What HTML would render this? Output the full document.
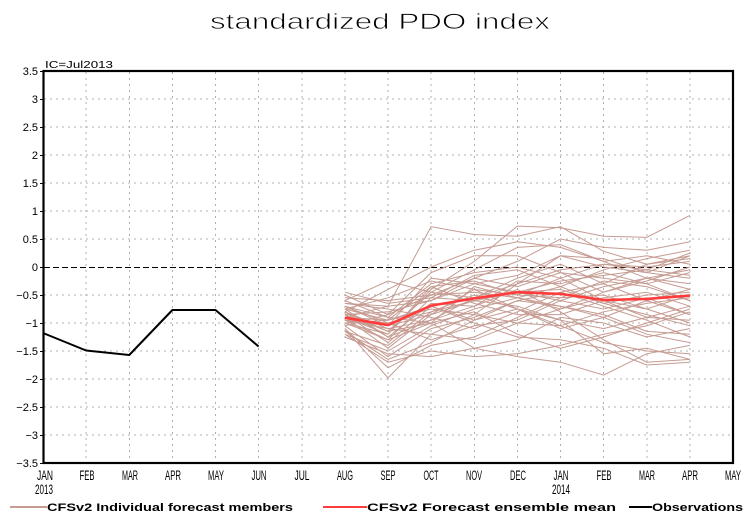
<!DOCTYPE html>
<html><head><meta charset="utf-8"><style>
html,body{margin:0;padding:0;background:#fff;}
svg{display:block;}
text{font-family:"Liberation Sans",sans-serif;fill:#000;}
.m polyline{fill:none;stroke:#c59b92;stroke-width:1;vector-effect:non-scaling-stroke;}
</style></head><body>
<svg width="755" height="525" viewBox="0 0 755 525" xmlns="http://www.w3.org/2000/svg">
<rect width="755" height="525" fill="#fff"/>
<text x="210" y="29" font-size="22" textLength="340" lengthAdjust="spacingAndGlyphs" stroke="#fff" stroke-width="0.7">standardized PDO index</text>
<text x="45" y="68" font-size="10" textLength="68" lengthAdjust="spacingAndGlyphs">IC=Jul2013</text>

<!-- grid -->
<g stroke="#b0b0b0" stroke-width="1" stroke-dasharray="2,4" shape-rendering="crispEdges">
<line x1="86.1" y1="72" x2="86.1" y2="463"/>
<line x1="129.25" y1="72" x2="129.25" y2="463"/>
<line x1="172.4" y1="72" x2="172.4" y2="463"/>
<line x1="215.5" y1="72" x2="215.5" y2="463"/>
<line x1="258.6" y1="72" x2="258.6" y2="463"/>
<line x1="301.75" y1="72" x2="301.75" y2="463"/>
<line x1="344.9" y1="72" x2="344.9" y2="463"/>
<line x1="388" y1="72" x2="388" y2="463"/>
<line x1="431.1" y1="72" x2="431.1" y2="463"/>
<line x1="474.25" y1="72" x2="474.25" y2="463"/>
<line x1="517.4" y1="72" x2="517.4" y2="463"/>
<line x1="560.5" y1="72" x2="560.5" y2="463"/>
<line x1="603.6" y1="72" x2="603.6" y2="463"/>
<line x1="646.75" y1="72" x2="646.75" y2="463"/>
<line x1="689.9" y1="72" x2="689.9" y2="463"/>
<line x1="44" y1="99" x2="733" y2="99"/>
<line x1="44" y1="127" x2="733" y2="127"/>
<line x1="44" y1="155" x2="733" y2="155"/>
<line x1="44" y1="183" x2="733" y2="183"/>
<line x1="44" y1="211" x2="733" y2="211"/>
<line x1="44" y1="239" x2="733" y2="239"/>
<line x1="44" y1="295" x2="733" y2="295"/>
<line x1="44" y1="323" x2="733" y2="323"/>
<line x1="44" y1="351" x2="733" y2="351"/>
<line x1="44" y1="379" x2="733" y2="379"/>
<line x1="44" y1="407" x2="733" y2="407"/>
<line x1="44" y1="435" x2="733" y2="435"/>
</g>
<line x1="44" y1="267.5" x2="733" y2="267.5" stroke="#000" stroke-width="1" stroke-dasharray="6,3"/>

<!-- members -->
<g class="m" transform="translate(0,267) scale(1,-56)">
<polyline points="344.9,-0.65 388,-0.70 431.1,0.72 474.25,0.58 517.4,0.55 560.5,0.72 603.6,0.28 646.75,0.05 689.9,0.15"/>
<polyline points="344.9,-0.90 388,-1.20 431.1,-0.40 474.25,0.10 517.4,0.73 560.5,0.70 603.6,0.55 646.75,0.53 689.9,0.92"/>
<polyline points="344.9,-1.10 388,-1.98 431.1,-1.20 474.25,-0.85 517.4,-0.30 560.5,0.20 603.6,0.00 646.75,-0.10 689.9,0.20"/>
<polyline points="344.9,-0.80 388,-0.40 431.1,0.00 474.25,0.30 517.4,0.45 560.5,0.35 603.6,0.10 646.75,-0.20 689.9,-0.05"/>
<polyline points="344.9,-1.20 388,-1.70 431.1,-1.50 474.25,-1.60 517.4,-1.55 560.5,-1.40 603.6,-1.20 646.75,-1.05 689.9,-0.80"/>
<polyline points="344.9,-0.95 388,-1.10 431.1,-0.95 474.25,-0.70 517.4,-0.40 560.5,-0.80 603.6,-1.30 646.75,-1.70 689.9,-1.65"/>
<polyline points="344.9,-0.70 388,-0.90 431.1,-0.30 474.25,-0.10 517.4,0.00 560.5,-0.20 603.6,-0.60 646.75,-0.90 689.9,-0.70"/>
<polyline points="344.9,-1.00 388,-1.30 431.1,-1.00 474.25,-1.45 517.4,-1.60 560.5,-1.70 603.6,-1.93 646.75,-1.55 689.9,-1.40"/>
<polyline points="344.9,-0.85 388,-0.80 431.1,-0.60 474.25,-0.20 517.4,0.10 560.5,0.50 603.6,0.35 646.75,0.30 689.9,0.45"/>
<polyline points="344.9,-0.60 388,-0.25 431.1,-0.45 474.25,-0.55 517.4,-0.30 560.5,-0.05 603.6,0.05 646.75,-0.05 689.9,0.25"/>
<polyline points="344.9,-1.15 388,-1.40 431.1,-0.80 474.25,-0.50 517.4,-0.75 560.5,-1.10 603.6,-0.90 646.75,-0.60 689.9,-0.40"/>
<polyline points="344.9,-0.75 388,-0.95 431.1,-0.70 474.25,-1.00 517.4,-1.25 560.5,-1.30 603.6,-1.45 646.75,-1.75 689.9,-1.70"/>
<polyline points="344.9,-1.05 388,-1.60 431.1,-1.10 474.25,-0.90 517.4,-0.60 560.5,-0.45 603.6,-0.30 646.75,0.05 689.9,0.20"/>
<polyline points="344.9,-0.50 388,-0.85 431.1,-0.10 474.25,0.20 517.4,0.20 560.5,-0.10 603.6,-0.45 646.75,-0.25 689.9,0.00"/>
<polyline points="344.9,-0.95 388,-1.00 431.1,-1.30 474.25,-1.05 517.4,-0.95 560.5,-0.60 603.6,-0.35 646.75,-0.20 689.9,-0.30"/>
<polyline points="344.9,-0.80 388,-1.25 431.1,-0.65 474.25,-0.70 517.4,-0.25 560.5,-0.30 603.6,-0.10 646.75,-0.30 689.9,-0.60"/>
<polyline points="344.9,-1.25 388,-1.55 431.1,-1.60 474.25,-1.45 517.4,-1.30 560.5,-0.90 603.6,-1.00 646.75,-1.25 689.9,-1.10"/>
<polyline points="344.9,-0.70 388,-1.05 431.1,-0.20 474.25,-0.30 517.4,-0.45 560.5,-0.60 603.6,-0.75 646.75,-0.55 689.9,-0.85"/>
<polyline points="344.9,-0.90 388,-1.45 431.1,-0.85 474.25,-0.40 517.4,-0.50 560.5,-0.20 603.6,0.05 646.75,0.00 689.9,0.10"/>
<polyline points="344.9,-0.55 388,-0.60 431.1,-0.50 474.25,-0.45 517.4,-0.55 560.5,-0.70 603.6,-0.90 646.75,-1.20 689.9,-1.35"/>
<polyline points="344.9,-1.00 388,-0.95 431.1,-0.75 474.25,-0.85 517.4,-1.00 560.5,-0.75 603.6,-0.55 646.75,-0.45 689.9,-0.70"/>
<polyline points="344.9,-0.85 388,-1.15 431.1,-0.45 474.25,-0.05 517.4,0.35 560.5,0.40 603.6,0.10 646.75,0.20 689.9,0.05"/>
<polyline points="344.9,-1.10 388,-1.80 431.1,-1.40 474.25,-1.25 517.4,-0.90 560.5,-0.55 603.6,-0.50 646.75,-0.75 689.9,-1.00"/>
<polyline points="344.9,-0.65 388,-0.75 431.1,-0.90 474.25,-1.10 517.4,-0.80 560.5,-0.45 603.6,-0.70 646.75,-0.95 689.9,-1.25"/>
<polyline points="344.9,-0.95 388,-1.30 431.1,-0.55 474.25,-0.60 517.4,-0.45 560.5,-0.25 603.6,-0.15 646.75,-0.05 689.9,-0.15"/>
<polyline points="344.9,-0.75 388,-0.55 431.1,-0.25 474.25,-0.40 517.4,-0.75 560.5,-1.05 603.6,-1.35 646.75,-1.50 689.9,-1.55"/>
<polyline points="344.9,-1.20 388,-1.50 431.1,-1.05 474.25,-0.75 517.4,-0.55 560.5,-0.35 603.6,-0.65 646.75,-0.50 689.9,-0.45"/>
<polyline points="344.9,-0.90 388,-0.70 431.1,-0.60 474.25,-0.30 517.4,-0.15 560.5,0.20 603.6,0.15 646.75,-0.10 689.9,-0.20"/>
<polyline points="344.9,-0.80 388,-1.10 431.1,-1.20 474.25,-1.30 517.4,-1.00 560.5,-1.05 603.6,-0.80 646.75,-0.65 689.9,-0.55"/>
<polyline points="344.9,-0.70 388,-1.00 431.1,-0.80 474.25,-0.60 517.4,-0.70 560.5,-0.95 603.6,-1.10 646.75,-0.90 689.9,-0.95"/>
<polyline points="344.9,-1.00 388,-1.20 431.1,-0.35 474.25,-0.25 517.4,-0.50 560.5,-0.55 603.6,-0.25 646.75,-0.35 689.9,-0.60"/>
<polyline points="344.9,-0.60 388,-0.90 431.1,-1.00 474.25,-0.80 517.4,-1.20 560.5,-1.45 603.6,-1.25 646.75,-1.00 689.9,-0.75"/>
<polyline points="344.9,-0.85 388,-1.35 431.1,-0.70 474.25,-0.95 517.4,-0.60 560.5,-0.70 603.6,-0.85 646.75,-1.15 689.9,-1.20"/>
<polyline points="344.9,-1.05 388,-0.85 431.1,-0.50 474.25,-0.20 517.4,-0.35 560.5,-0.10 603.6,-0.20 646.75,-0.30 689.9,-0.10"/>
<polyline points="344.9,-0.75 388,-1.25 431.1,-0.95 474.25,-0.55 517.4,-0.20 560.5,0.05 603.6,-0.30 646.75,-0.60 689.9,-0.85"/>
<polyline points="344.9,-0.90 388,-0.95 431.1,-0.35 474.25,-0.65 517.4,-0.85 560.5,-0.85 603.6,-0.60 646.75,-0.75 689.9,-0.50"/>
<polyline points="344.9,-1.15 388,-1.65 431.1,-1.35 474.25,-0.95 517.4,-0.75 560.5,-0.95 603.6,-1.55 646.75,-1.45 689.9,-1.65"/>
<polyline points="344.9,-0.45 388,-0.65 431.1,-0.55 474.25,-0.15 517.4,-0.05 560.5,-0.35 603.6,-0.05 646.75,0.15 689.9,0.30"/>
<polyline points="344.9,-0.95 388,-1.05 431.1,-0.85 474.25,-0.60 517.4,-0.45 560.5,-0.40 603.6,-0.65 646.75,-0.85 689.9,-1.05"/>
<polyline points="344.9,-0.80 388,-1.15 431.1,-1.00 474.25,-0.35 517.4,-0.55 560.5,-0.75 603.6,-0.45 646.75,-0.20 689.9,-0.40"/>
</g>

<!-- ensemble mean -->
<polyline fill="none" stroke="#ff3b3b" stroke-width="2.6" stroke-linejoin="round"
 points="344.9,317.7 388,325 431.1,305.6 474.25,298.4 517.4,292.2 560.5,293.9 603.6,300 646.75,298.9 689.9,295.6"/>

<!-- observations -->
<polyline fill="none" stroke="#000" stroke-width="2" stroke-linejoin="round"
 points="43,333 86.1,350.5 129.25,355 172.4,310 215.5,310 258.6,346.5"/>

<!-- frame -->
<rect x="43.5" y="71" width="689.5" height="392" fill="none" stroke="#000" stroke-width="2.2"/>
<g stroke="#000" stroke-width="1" shape-rendering="crispEdges">
<line x1="40" y1="71.5" x2="43" y2="71.5"/><line x1="40" y1="99.5" x2="43" y2="99.5"/>
<line x1="40" y1="127.5" x2="43" y2="127.5"/><line x1="40" y1="155.5" x2="43" y2="155.5"/>
<line x1="40" y1="183.5" x2="43" y2="183.5"/><line x1="40" y1="211.5" x2="43" y2="211.5"/>
<line x1="40" y1="239.5" x2="43" y2="239.5"/><line x1="40" y1="267.5" x2="43" y2="267.5"/>
<line x1="40" y1="295.5" x2="43" y2="295.5"/><line x1="40" y1="323.5" x2="43" y2="323.5"/>
<line x1="40" y1="351.5" x2="43" y2="351.5"/><line x1="40" y1="379.5" x2="43" y2="379.5"/>
<line x1="40" y1="407.5" x2="43" y2="407.5"/><line x1="40" y1="435.5" x2="43" y2="435.5"/>
<line x1="40" y1="463.5" x2="43" y2="463.5"/>
</g>

<!-- y labels -->
<g font-size="11" text-anchor="end">
<text x="38" y="75">3.5</text>
<text x="38" y="103">3</text>
<text x="38" y="131">2.5</text>
<text x="38" y="159">2</text>
<text x="38" y="187">1.5</text>
<text x="38" y="215">1</text>
<text x="38" y="243">0.5</text>
<text x="38" y="271">0</text>
<text x="38" y="299">−0.5</text>
<text x="38" y="327">−1</text>
<text x="38" y="355">−1.5</text>
<text x="38" y="383">−2</text>
<text x="38" y="411">−2.5</text>
<text x="38" y="439">−3</text>
<text x="38" y="467">−3.5</text>
</g>

<!-- x labels -->
<g font-size="13.5" text-anchor="middle">
<text x="45" y="480" textLength="16" lengthAdjust="spacingAndGlyphs">JAN</text>
<text x="44" y="494" textLength="18" lengthAdjust="spacingAndGlyphs">2013</text>
<text x="87" y="480" textLength="15" lengthAdjust="spacingAndGlyphs">FEB</text>
<text x="130" y="480" textLength="16" lengthAdjust="spacingAndGlyphs">MAR</text>
<text x="173" y="480" textLength="16" lengthAdjust="spacingAndGlyphs">APR</text>
<text x="216" y="480" textLength="16" lengthAdjust="spacingAndGlyphs">MAY</text>
<text x="259" y="480" textLength="15" lengthAdjust="spacingAndGlyphs">JUN</text>
<text x="302" y="480" textLength="15" lengthAdjust="spacingAndGlyphs">JUL</text>
<text x="345" y="480" textLength="16" lengthAdjust="spacingAndGlyphs">AUG</text>
<text x="388" y="480" textLength="15" lengthAdjust="spacingAndGlyphs">SEP</text>
<text x="431" y="480" textLength="15" lengthAdjust="spacingAndGlyphs">OCT</text>
<text x="474" y="480" textLength="16" lengthAdjust="spacingAndGlyphs">NOV</text>
<text x="518" y="480" textLength="16" lengthAdjust="spacingAndGlyphs">DEC</text>
<text x="561" y="480" textLength="15" lengthAdjust="spacingAndGlyphs">JAN</text>
<text x="561" y="494" textLength="18" lengthAdjust="spacingAndGlyphs">2014</text>
<text x="604" y="480" textLength="15" lengthAdjust="spacingAndGlyphs">FEB</text>
<text x="647" y="480" textLength="16" lengthAdjust="spacingAndGlyphs">MAR</text>
<text x="690" y="480" textLength="16" lengthAdjust="spacingAndGlyphs">APR</text>
<text x="733" y="480" textLength="16" lengthAdjust="spacingAndGlyphs">MAY</text>
</g>

<!-- legend -->
<line x1="10" y1="507" x2="47" y2="507" stroke="#c59b92" stroke-width="2"/>
<text x="47" y="511" font-size="11" font-weight="bold" textLength="246" lengthAdjust="spacingAndGlyphs">CFSv2 Individual forecast members</text>
<line x1="323" y1="507" x2="367" y2="507" stroke="#ff3b3b" stroke-width="2"/>
<text x="367" y="511" font-size="11" font-weight="bold" textLength="249" lengthAdjust="spacingAndGlyphs">CFSv2 Forecast ensemble mean</text>
<line x1="629" y1="507" x2="652" y2="507" stroke="#000" stroke-width="2"/>
<text x="652" y="511" font-size="11" font-weight="bold" textLength="91" lengthAdjust="spacingAndGlyphs">Observations</text>
</svg>
</body></html>
